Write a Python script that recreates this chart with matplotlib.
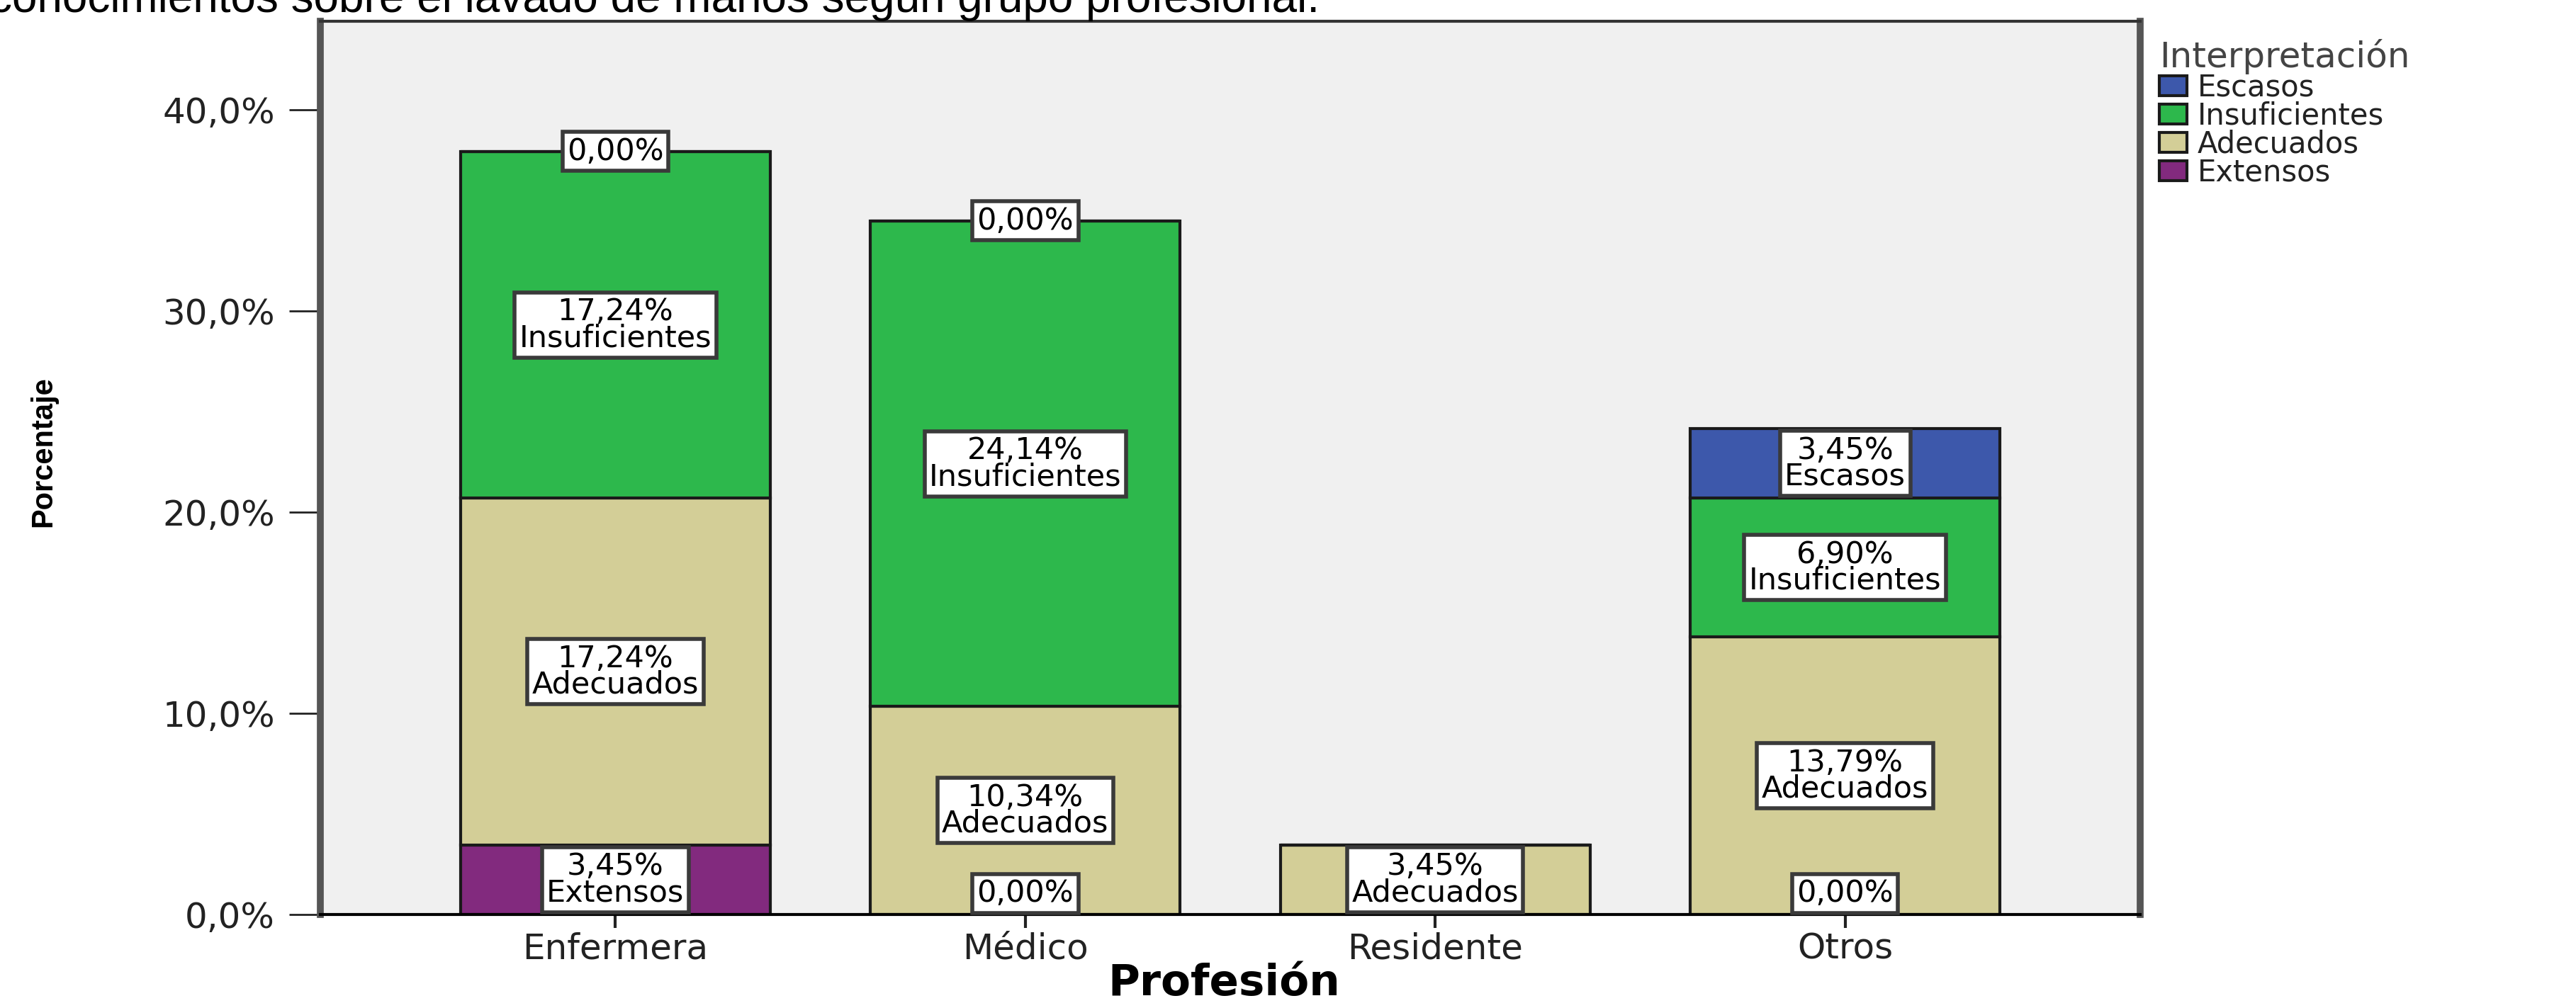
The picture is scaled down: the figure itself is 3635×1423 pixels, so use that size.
import matplotlib
matplotlib.use("Agg")
import matplotlib.pyplot as plt
from matplotlib.patches import Patch

# datos (porcentaje sobre el total)
profesiones = ["Enfermera", "Médico", "Residente", "Otros"]
extensos = [3.45, 0.00, None, 0.00]
adecuados = [17.24, 10.34, 3.45, 13.79]
insuficientes = [17.24, 24.14, None, 6.90]
escasos = [0.00, 0.00, None, 3.45]

y_ticks = [0, 10, 20, 30, 40]
y_tick_labels = ["0,0%", "10,0%", "20,0%", "30,0%", "40,0%"]

# orden de apilado: de abajo hacia arriba
series = [("Extensos", extensos, "#822a7e"),
          ("Adecuados", adecuados, "#d3ce97"),
          ("Insuficientes", insuficientes, "#2db84c"),
          ("Escasos", escasos, "#3d58ab")]

plt.rcParams["font.family"] = ["DejaVu Sans"]
txt = "#222222"

fig = plt.figure(figsize=(36.35, 14.23), dpi=100)
ax = fig.add_axes([452 / 3635, 1 - 1291 / 1423, (3020 - 452) / 3635, (1291 - 30) / 1423])
ax.set_facecolor("#f0f0f0")

x = list(range(len(profesiones)))
base = [0.0] * len(profesiones)
box = dict(boxstyle="square,pad=0.15", fc="white", ec="#3a3a3a", lw=4)

for nombre, vals, color in series:
    h = [v if v is not None else 0.0 for v in vals]
    ax.bar(x, h, bottom=base, width=0.755, color=color, edgecolor="#1a1a1a",
           linewidth=3, zorder=2)
    for i, v in enumerate(vals):
        if v is None:
            continue
        s = "{:.2f}%".format(v).replace(".", ",")
        if v > 0:
            ax.text(i, base[i] + v / 2, s + "\n" + nombre, ha="center", va="center",
                    fontsize=31, linespacing=0.85, color="black", bbox=box, zorder=4)
        elif base[i] == 0:
            ax.text(i, 0.3, s, ha="center", va="bottom", fontsize=31,
                    color="black", bbox=box, zorder=4)
        else:
            ax.text(i, base[i], s, ha="center", va="center", fontsize=31,
                    color="black", bbox=box, zorder=4)
    base = [b + hh for b, hh in zip(base, h)]

ax.set_xlim(-0.72, 3.72)
ax.set_ylim(0, 44.4)
ax.set_yticks(y_ticks)
ax.set_yticklabels(y_tick_labels)
ax.set_xticks(x)
ax.set_xticklabels(profesiones)
ax.tick_params(axis="y", length=32, width=2, pad=14, labelsize=36, colors=txt)
ax.tick_params(axis="x", length=14, width=3, pad=4, labelsize=36, colors=txt)

for s in ["left", "right"]:
    ax.spines[s].set_color("#555555")
    ax.spines[s].set_linewidth(7)
ax.spines["top"].set_color("#333333")
ax.spines["top"].set_linewidth(3)
ax.spines["bottom"].set_color("black")
ax.spines["bottom"].set_linewidth(3)

ax.set_ylabel("Porcentaje", fontsize=30, fontweight="bold", color="black",
              family=["Liberation Sans Narrow", "Liberation Sans", "DejaVu Sans"])
ax.yaxis.set_label_coords(-0.1445, 0.518)
ax.set_xlabel("Profesión", fontsize=44, fontweight="bold", color="black")
ax.xaxis.set_label_coords(0.4965, -0.077)
ax.xaxis.label.set_verticalalignment("center")

handles = [Patch(facecolor=c, edgecolor="#1a1a1a", linewidth=3, label=n)
           for n, v, c in series[::-1]]
leg = fig.legend(handles=handles, title="Interpretación", loc="upper left",
                 bbox_to_anchor=(3030 / 3635, 1 - 38 / 1423), frameon=False,
                 fontsize=30, title_fontsize=36, handlelength=0.95, handleheight=0.65,
                 labelspacing=-0.05, handletextpad=0.35, borderaxespad=0)
leg._legend_box.align = "left"
leg.get_title().set_color("#444444")
for t in leg.get_texts():
    t.set_color(txt)

fig.text(-0.004, 1.0, "conocimientos sobre el lavado de manos según grupo profesional.",
         va="center", ha="left", fontsize=46, family=["Liberation Sans", "DejaVu Sans"],
         color="black")

fig.savefig("out.png", dpi=100)
